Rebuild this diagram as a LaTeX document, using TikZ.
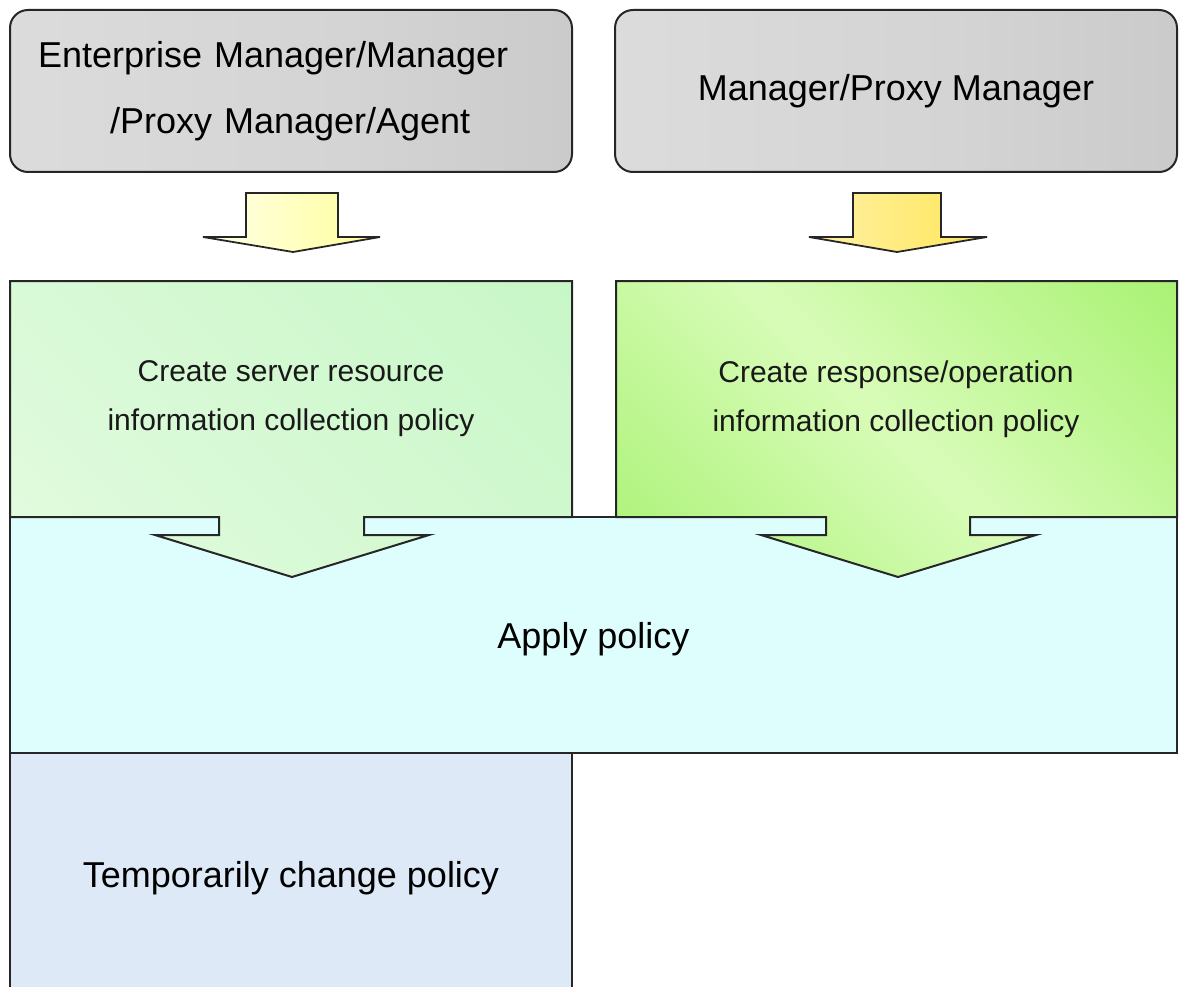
\documentclass[tikz,border=0pt]{standalone}
\usepackage{fontspec}
\setmainfont{Liberation Sans}
\definecolor{edge}{HTML}{262626}
\definecolor{grayL}{HTML}{E2E2E2}
\definecolor{grayM}{HTML}{D4D4D4}
\definecolor{grayD}{HTML}{C6C6C6}
\definecolor{sgL}{HTML}{E8FCE4}
\definecolor{sgD}{HTML}{C2F6C2}
\definecolor{rgB}{HTML}{96EE58}
\definecolor{rgL}{HTML}{D8FCB8}
\definecolor{applyfill}{HTML}{DEFEFE}
\definecolor{tempfill}{HTML}{DDE9F7}
\pgfdeclarehorizontalshading{mgrshade}{100bp}{color(0bp)=(grayL); color(55bp)=(grayM); color(85bp)=(grayD); color(100bp)=(grayL)}
\pgfdeclarehorizontalshading{sgrshade}{100bp}{color(0bp)=(sgL); color(100bp)=(sgD)}
\pgfdeclarehorizontalshading{rgrshade}{100bp}{color(0bp)=(rgB); color(50bp)=(rgL); color(100bp)=(rgB)}
\tikzstyle{mgrbox}=[rounded corners=18pt, draw=edge, line width=2pt, shade, shading=mgrshade, minimum width=562pt, minimum height=162pt, font=\fontsize{36}{66}\selectfont]
\tikzstyle{polbox}=[draw=edge, line width=2pt, line join=miter]
\tikzstyle{poltext}=[align=center, text=black!90, font=\fontsize{30}{49}\selectfont]
\tikzstyle{downarrow}=[draw=edge, line width=1.8pt, line join=miter]

\begin{document}
\begin{tikzpicture}[x=1pt, y=-1pt,
	every node/.style={inner sep=0pt}
	]
	\useasboundingbox (0,0) rectangle (1181,987);
	% apply and temporary change
	\node[polbox, fill=applyfill, minimum width=1167pt, minimum height=236pt, text depth=0pt, font=\fontsize{36}{40}\selectfont] (apply) at (593.5,635) {Apply policy};
	\node[polbox, fill=tempfill, minimum width=562pt, minimum height=242pt, text depth=0pt, font=\fontsize{36}{40}\selectfont] (temp) at (291,874) {Temporarily change policy};
	% managers
	\node[mgrbox, text width=506pt, align=left] (emtop) at (291,91) {Enterprise Manager/Manager\\\hspace*{72pt}/Proxy Manager/Agent};
	\node[mgrbox] (mgtop) at (896,91) {Manager/Proxy Manager};
	% small arrows
	\filldraw[downarrow, left color=yellow!8, right color=yellow!40!white] (246,193) -- (338,193) -- (338,237) -- (380,237) -- (293,252) -- (203,237) -- (246,237) -- cycle;
	\filldraw[downarrow, left color=orange!30!yellow!35, right color=orange!30!yellow!65] (853,193) -- (941,193) -- (941,237) -- (987,237) -- (897,252) -- (809,237) -- (853,237) -- cycle;
	% policy boxes with their arrows
	\path[polbox, shade, shading=sgrshade, shading angle=45] (10,281) -- (572,281) -- (572,517) -- (364,517) -- (364,535) -- (429,535) -- (292,577) -- (155,535) -- (219,535) -- (219,517) -- (10,517) -- cycle;
	\path[polbox, shade, shading=rgrshade, shading angle=45] (616,281) -- (1177,281) -- (1177,517) -- (970,517) -- (970,535) -- (1036,535) -- (898,577) -- (761,535) -- (826,535) -- (826,517) -- (616,517) -- cycle;
	\node[poltext] (srvpol) at (291,399) {Create server resource\\information collection policy};
	\node[poltext] (rsppol) at (896,399) {Create response/operation\\information collection policy};
\end{tikzpicture}
\end{document}
